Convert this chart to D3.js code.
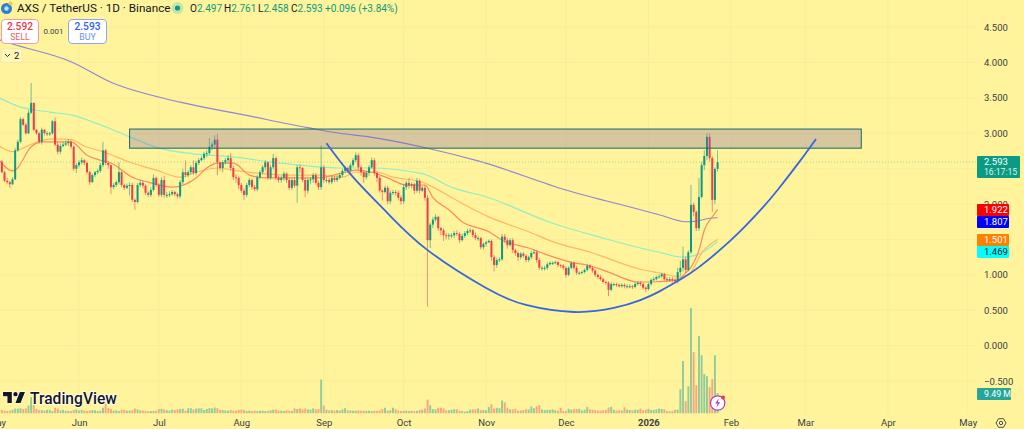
<!DOCTYPE html>
<html><head><meta charset="utf-8">
<script src="https://cdn.jsdelivr.net/npm/d3@7"></script>
<style>html,body{margin:0;padding:0;background:#fff39b;overflow:hidden}svg{display:block}text{font-family:Roboto,"Open Sans",sans-serif}</style>
</head><body><svg id="c" width="1024" height="429"></svg>
<script>
// candle index 0 = 2 May 2025, one candle per day
const closes=[2.60,
2.45,2.33,2.31,2.28,2.35,2.76,2.88,3.20,3.12,3.00,
3.29,3.43,3.05,3.00,2.88,3.05,3.00,3.00,3.00,3.17,
2.84,2.74,2.82,2.84,2.86,2.88,2.81,2.50,2.55,2.59,
2.62,2.58,2.45,2.31,2.41,2.45,2.47,2.55,2.76,2.58,
2.55,2.24,2.27,2.31,2.45,2.27,2.23,2.26,2.27,2.06,
2.03,2.27,2.30,2.26,2.16,2.13,2.20,2.37,2.27,2.13,
2.34,2.13,2.13,2.14,2.17,2.14,2.11,2.31,2.45,2.41,
2.45,2.52,2.44,2.58,2.62,2.65,2.71,2.72,2.81,2.84,
2.91,2.59,2.51,2.59,2.62,2.65,2.51,2.38,2.37,2.27,
2.19,2.13,2.27,2.34,2.24,2.21,2.38,2.45,2.52,2.59,
2.37,2.52,2.65,2.37,2.34,2.37,2.43,2.34,2.23,2.34,
2.26,2.52,2.51,2.34,2.19,2.34,2.35,2.41,2.30,2.24,
2.52,2.34,2.34,2.31,2.37,2.34,2.37,2.41,2.47,2.51,
2.47,2.55,2.62,2.69,2.52,2.45,2.38,2.44,2.52,2.62,
2.44,2.37,2.19,2.17,2.23,2.04,2.16,2.17,2.16,2.09,
2.04,2.24,2.30,2.26,2.28,2.19,2.33,2.19,2.23,2.09,
1.49,1.71,1.78,1.82,1.66,1.63,1.56,1.55,1.56,1.56,
1.59,1.58,1.49,1.55,1.59,1.62,1.63,1.56,1.52,1.52,
1.39,1.44,1.46,1.48,1.25,1.14,1.21,1.22,1.54,1.49,
1.42,1.49,1.35,1.31,1.25,1.30,1.27,1.21,1.25,1.31,
1.32,1.21,1.10,1.10,1.10,1.15,1.17,1.17,1.18,1.14,
1.13,1.10,1.00,1.10,1.17,1.10,1.03,1.03,1.04,1.07,
1.13,1.10,1.06,1.00,.97,.94,.90,.89,.79,.87,
.87,.86,.84,.86,.84,.84,.84,.83,.87,.89,
.87,.82,.80,.87,.93,.94,.97,.98,1.01,.94,
.93,.94,.93,.91,1.04,1.10,1.22,1.07,1.32,1.99,
1.89,1.66,2.10,2.55,2.68,2.95,2.65,2.06,2.497,2.593];
const highs=[2.63,
2.62,2.47,2.37,2.33,2.38,2.79,2.91,3.23,3.22,3.15,
3.33,3.71,3.43,3.06,3.02,3.08,3.06,3.03,3.02,3.19,
3.22,2.88,2.86,2.88,2.90,2.92,2.90,2.83,2.58,2.62,
2.66,2.64,2.60,2.47,2.43,2.47,2.50,2.58,2.88,2.78,
2.60,2.56,2.30,2.33,2.59,2.47,2.29,2.29,2.31,2.30,
2.08,2.30,2.34,2.33,2.28,2.18,2.24,2.42,2.39,2.30,
2.38,2.40,2.17,2.18,2.20,2.19,2.16,2.34,2.50,2.62,
2.48,2.55,2.62,2.61,2.65,2.68,2.74,2.76,2.93,2.88,
2.97,2.99,2.60,2.62,2.65,2.69,2.72,2.54,2.42,2.39,
2.30,2.22,2.30,2.37,2.36,2.27,2.41,2.48,2.55,2.62,
2.60,2.55,2.71,2.67,2.40,2.40,2.46,2.45,2.37,2.37,
2.38,2.55,2.56,2.52,2.37,2.37,2.38,2.44,2.44,2.33,
2.83,2.55,2.38,2.37,2.40,2.40,2.41,2.44,2.50,2.54,
2.53,2.58,2.65,2.73,2.72,2.55,2.47,2.47,2.55,2.66,
2.65,2.47,2.40,2.21,2.26,2.26,2.19,2.20,2.20,2.19,
2.12,2.28,2.33,2.37,2.31,2.30,2.37,2.35,2.26,2.27,
2.13,1.74,1.82,1.86,1.83,1.68,1.66,1.59,1.59,1.59,
1.62,1.63,1.60,1.58,1.62,1.65,1.66,1.65,1.60,1.55,
1.54,1.46,1.48,1.50,1.50,1.28,1.24,1.25,1.58,1.58,
1.52,1.52,1.52,1.37,1.33,1.32,1.32,1.29,1.27,1.34,
1.36,1.35,1.24,1.13,1.13,1.18,1.19,1.19,1.20,1.19,
1.15,1.15,1.12,1.12,1.19,1.19,1.13,1.05,1.06,1.09,
1.15,1.15,1.12,1.08,1.02,1.00,.96,.92,.91,.90,
.89,.89,.88,.88,.88,.87,.87,.86,.90,.91,
.91,.89,.84,.89,.95,.97,.99,1.01,1.03,1.03,
.97,.97,.97,.95,1.10,1.20,1.40,1.26,1.35,2.27,
2.02,1.91,2.37,2.60,2.76,3.00,3.00,2.68,2.52,2.761];
const lows=[2.55,
2.44,2.31,2.28,2.23,2.27,2.34,2.74,2.86,3.10,2.98,
2.99,3.27,3.03,2.98,2.85,2.84,2.97,2.96,2.96,2.98,
2.82,2.70,2.71,2.80,2.82,2.82,2.78,2.47,2.44,2.52,
2.56,2.55,2.42,2.27,2.30,2.38,2.42,2.44,2.52,2.55,
2.50,2.14,2.21,2.24,2.28,2.24,2.20,2.21,2.12,2.03,
1.92,2.01,2.24,2.22,2.13,2.10,2.10,2.18,2.24,2.10,
2.10,2.09,2.09,2.10,2.12,2.11,2.08,2.08,2.28,2.38,
2.38,2.42,2.41,2.41,2.55,2.60,2.62,2.66,2.69,2.76,
2.78,2.41,2.47,2.45,2.56,2.58,2.47,2.34,2.30,2.21,
2.16,2.06,2.10,2.24,2.20,2.18,2.18,2.35,2.42,2.48,
2.34,2.34,2.49,2.34,2.30,2.30,2.33,2.30,2.20,2.20,
2.23,2.02,2.44,2.31,2.10,2.15,2.28,2.30,2.27,2.20,
2.20,2.30,2.30,2.28,2.28,2.31,2.31,2.35,2.38,2.44,
2.44,2.44,2.52,2.59,2.48,2.40,2.30,2.35,2.40,2.50,
2.40,2.31,2.16,2.05,2.15,2.00,2.00,2.13,2.12,2.05,
1.99,2.00,2.20,2.22,2.22,2.14,2.16,2.15,2.17,2.05,
.55,1.38,1.66,1.75,1.62,1.56,1.48,1.50,1.50,1.52,
1.52,1.55,1.45,1.47,1.52,1.56,1.59,1.53,1.49,1.48,
1.36,1.36,1.40,1.45,1.20,1.05,1.10,1.18,1.20,1.45,
1.37,1.40,1.31,1.27,1.20,1.22,1.24,1.18,1.18,1.22,
1.29,1.17,1.07,1.06,1.06,1.07,1.13,1.14,1.15,1.11,
1.10,1.07,.96,.98,1.08,1.07,1.00,1.00,1.01,1.02,
1.05,1.08,1.03,.97,.94,.92,.88,.86,.70,.77,
.84,.83,.82,.82,.81,.81,.81,.80,.81,.85,
.84,.79,.76,.78,.85,.91,.92,.95,.96,.92,
.90,.90,.89,.88,.88,.98,1.05,1.03,1.05,1.30,
1.83,1.62,1.62,2.08,2.48,2.62,2.60,1.89,2.00,2.458];
// volume in millions
const volumes=[1.2,
1.5,1.2,1.0,1.2,1.6,2.2,2.2,2.4,2.0,2.2,
3.6,7.6,3.8,2.0,1.4,1.5,1.2,1.6,1.6,1.0,
2.6,2.2,1.3,1.6,1.1,1.1,1.0,1.5,1.8,1.2,
1.6,1.2,1.0,1.3,1.5,1.4,1.0,1.2,2.6,4.5,
2.4,2.0,1.2,1.4,1.0,1.7,1.6,1.2,1.3,1.4,
2.2,1.8,1.3,1.2,1.1,.9,1.0,1.1,1.2,2.0,
2.1,1.8,1.4,1.2,1.7,1.5,1.8,2.0,2.1,1.2,
2.3,2.4,1.8,2.2,2.3,2.3,1.5,2.0,2.4,2.3,
2.7,2.4,1.6,1.5,1.3,1.2,1.5,1.2,1.2,1.6,
1.7,1.6,1.0,1.2,1.0,1.3,1.0,1.2,1.2,1.0,
1.1,1.4,1.7,1.8,1.3,1.2,1.0,1.4,1.2,1.1,
2.3,2.0,2.3,1.8,2.2,1.8,1.7,2.3,1.8,2.0,
16,3.6,1.7,1.3,1.5,1.2,1.5,1.2,1.8,2.4,
1.4,1.3,1.2,1.2,1.3,1.2,1.2,1.1,1.2,1.0,
1.2,1.1,1.3,1.9,2.6,1.2,1.4,2.6,1.8,1.2,
1.0,1.1,1.2,1.1,1.2,1.0,1.1,1.6,1.7,2.2,
6.5,3.8,1.9,1.8,2.6,2.6,2.2,1.3,1.4,1.7,
1.9,1.9,1.2,1.0,.7,1.0,1.7,1.8,1.8,2.3,
1.4,1.5,1.4,3.0,4.2,2.2,2.6,2.4,6.0,5.2,
2.6,1.8,1.8,2.1,1.2,1.2,1.5,1.8,1.8,3.2,
2.4,3.3,3.8,1.8,1.5,1.6,1.6,1.8,1.4,1.2,
2.6,1.1,1.0,2.1,1.7,1.9,2.0,2.1,1.3,1.7,
3.0,1.9,1.7,1.5,1.3,1.2,1.4,1.6,2.7,3.0,
1.7,1.2,1.4,1.3,2.8,1.7,1.5,1.3,1.7,1.6,
2.2,1.4,1.7,2.1,1.5,1.6,1.8,2.2,2.0,1.9,
1.0,.9,1.0,1.6,1.7,11.4,24.8,5.7,12.8,50,
29,13.3,36.7,27.6,18.6,17.6,12.4,16.2,27.6,9.49];

const purpleDays=[0,5,27,42,68,92,116,128,139,161,181,213,241,248,258,262,267,270];
const purpleVals=[4.32,4.26,4.01,3.72,3.44,3.26,3.08,3.00,2.95,2.79,2.60,2.20,1.92,1.85,1.75,1.76,1.80,1.807];
const tealDays=[0,8,19,27,38,49,60,73,87,101,113,128,139,159,170,184,208,227,241,248,257,262,270];
const tealVals=[3.50,3.37,3.30,3.26,3.12,2.95,2.79,2.71,2.67,2.60,2.55,2.51,2.51,2.43,2.24,2.09,1.73,1.52,1.38,1.32,1.25,1.28,1.469];
const orangeDays=[0,5,7,13,20,27,32,39,50,59,68,74,82,88,96,108,120,129,134,142,148,159,163,173,184,199,208,223,241,248,256,260,264,270];
const orangeVals=[2.82,2.74,2.76,2.86,2.92,2.91,2.82,2.74,2.58,2.48,2.38,2.45,2.51,2.48,2.44,2.41,2.41,2.38,2.45,2.45,2.38,2.31,2.24,2.03,1.82,1.61,1.47,1.31,1.08,1.03,.97,1.04,1.31,1.501];
const fastDays=[0,5,6,12,16,20,27,33,38,42,50,56,65,74,78,82,88,94,100,110,120,129,134,140,146,153,160,163,169,174,184,189,199,204,216,221,229,240,245,255,258,260,263,265,268,270];
const fastVals=[2.62,2.47,2.48,2.81,2.88,2.88,2.88,2.69,2.62,2.58,2.38,2.31,2.24,2.37,2.51,2.58,2.58,2.41,2.37,2.37,2.37,2.44,2.48,2.45,2.37,2.27,2.27,2.09,1.92,1.75,1.61,1.49,1.38,1.31,1.17,1.14,1.04,.90,.90,.93,1.03,1.11,1.35,1.63,1.82,1.922];
const curveDays=[123,133,146,161,183,198,216,231,241,248,256,263,275,286,293,301,307];
const curveVals=[2.86,2.38,1.87,1.35,.815,.575,.476,.533,.645,.764,.934,1.11,1.49,1.91,2.22,2.61,2.92];
const priceTicks=[4.5,4,3.5,3,2.5,2,1.5,1,.5,0,-.5];
const priceLabels=[4.5,4,3.5,3,2,1,.5,0,-.5];
const monthTicks=[[2025,4,"May"],[2025,5,"Jun"],[2025,6,"Jul"],[2025,7,"Aug"],[2025,8,"Sep"],[2025,9,"Oct"],[2025,10,"Nov"],[2025,11,"Dec"],[2026,0,"2026"],[2026,1,"Feb"],[2026,2,"Mar"],[2026,3,"Apr"],[2026,4,"May"]];
const zoneTop=3.06, zoneBottom=2.79, zoneStart=49, zoneEnd=324;
const lastPrice=2.593;

const svg=d3.select("#c");
const start=Date.UTC(2025,4,2), date=i=>new Date(start+i*864e5);
const x=d3.scaleUtc().domain([date(0),new Date(Date.UTC(2026,4,1))]).range([-0.8,967.7]);
const y=d3.scaleLinear().domain([0,4.5]).range([345.7,27.1]);
const vy=d3.scaleLinear().domain([0,50]).range([413.2,308]);
const xd=i=>x(date(i));
const W=977,AX="#2a2e39",UP="#0a9b82",DN="#f23c4c";
svg.append("rect").attr("width",1024).attr("height",429).attr("fill","#fff39b");
const grid=svg.append("g").attr("stroke","#f9ec9e").attr("stroke-width",1);
grid.selectAll("line.h").data(priceTicks).join("line").attr("x1",0).attr("x2",W).attr("y1",d=>y(d)).attr("y2",d=>y(d));
const mDates=monthTicks.map(d=>new Date(Date.UTC(d[0],d[1],1)));
grid.selectAll("line.v").data(mDates).join("line").attr("y1",0).attr("y2",413).attr("x1",d=>x(d)).attr("x2",d=>x(d));

// volume
const isUp=i=>i===0?false:closes[i]>=closes[i-1];
svg.append("g").selectAll("rect").data(volumes).join("rect")
 .attr("x",(d,i)=>xd(i)-.95).attr("width",1.9).attr("y",d=>vy(d)).attr("height",d=>vy(0)-vy(d))
 .attr("fill",(d,i)=>isUp(i)?"#8fcb9b":"#f7a583");

// moving averages
const path=(ds,vs,col,w,cv)=>svg.append("path").attr("d",d3.line().x(d=>xd(d)).y((d,i)=>y(vs[i])).curve(cv||d3.curveMonotoneX)(ds)).attr("fill","none").attr("stroke",col).attr("stroke-width",w);
path(purpleDays,purpleVals,"#8f86d6",1.1);
path(tealDays,tealVals,"#8df0c8",1.2);
path(orangeDays,orangeVals,"#ffb866",1.2);
path(fastDays,fastVals,"#ff8a5c",1.2);

// dotted last price
svg.append("line").attr("x1",0).attr("x2",W).attr("y1",y(lastPrice)).attr("y2",y(lastPrice)).attr("stroke","#a9d79a").attr("stroke-width",1).attr("stroke-dasharray","1 2");

// candles
const cg=svg.append("g");
cg.selectAll("line").data(closes).join("line")
 .attr("x1",(d,i)=>xd(i)).attr("x2",(d,i)=>xd(i)).attr("y1",(d,i)=>y(highs[i])).attr("y2",(d,i)=>y(lows[i]))
 .attr("stroke",(d,i)=>isUp(i)?UP:DN).attr("stroke-width",.8).attr("opacity",.7);
cg.selectAll("rect").data(closes).join("rect")
 .attr("x",(d,i)=>xd(i)-1).attr("width",2)
 .attr("y",(d,i)=>y(Math.max(d,i?closes[i-1]:d)))
 .attr("height",(d,i)=>Math.max(1,Math.abs(y(d)-y(i?closes[i-1]:d))))
 .attr("fill",(d,i)=>isUp(i)?UP:DN);

// zone
svg.append("rect").attr("x",xd(zoneStart)).attr("y",y(zoneTop)).attr("width",xd(zoneEnd)-xd(zoneStart)).attr("height",y(zoneBottom)-y(zoneTop))
 .attr("fill","rgba(122,100,167,.3)").attr("stroke","#0f6b6b").attr("stroke-width",1);

// drawn curve
path(curveDays,curveVals,"#3567e0",1.8,d3.curveNatural);

// price axis
const ay=d3.axisRight(y).tickValues(priceLabels).tickSize(0).tickPadding(0).tickFormat(d=>(d<0?"\u2212":"")+d3.format(".3f")(Math.abs(d)));
const gy=svg.append("g").attr("transform","translate(984,0)").call(ay);
gy.select(".domain").remove();
gy.selectAll("text").attr("fill","#3b3f4a").attr("font-size",9.5);

// month axis
const ax=d3.axisBottom(x).tickValues(mDates).tickSize(0).tickPadding(0).tickFormat((d,i)=>monthTicks[i][2]);
const gx=svg.append("g").attr("transform","translate(0,419)").call(ax);
gx.select(".domain").remove();
gx.selectAll("text").attr("fill","#3b3f4a").attr("font-size",9.5).attr("font-weight",(d,i)=>monthTicks[i][2]==="2026"?700:400);

// price tags
const tag=(yy,h,w,fill,tc,txt,sub,fs)=>{
 svg.append("rect").attr("x",977).attr("y",yy).attr("width",w).attr("height",h).attr("fill",fill).attr("rx",1);
 svg.append("text").attr("x",984).attr("y",yy+8.9).attr("fill",tc).attr("font-size",fs||9.5).text(txt);
 if(sub)svg.append("text").attr("x",984).attr("y",yy+19).attr("fill",tc).attr("font-size",8.6).attr("opacity",.85).text(sub);
};
tag(156,22,43,"#0a9b82","#fff","2.593","16:17:15");
tag(204,12,32,"#ff0000","#fff","1.922");
tag(216,12,32,"#0000ff","#fff","1.807");
tag(234,12,32,"#ff7f00","#fff","1.501");
tag(246,12,32,"#00ffff","#131722","1.469");
tag(388,12,34,"#26a69a","#fff","9.49 M",null,8.8);

// header
const logo=svg.append("g");
logo.append("circle").attr("cx",6.5).attr("cy",8.5).attr("r",5.5).attr("fill","#2f7fd0");
logo.append("circle").attr("cx",6.5).attr("cy",8.5).attr("r",2.2).attr("fill","#bfe3ff");
svg.append("circle").attr("cx",10.5).attr("cy",3.6).attr("r",2).attr("fill","#f7c948");
svg.append("text").attr("x",17).attr("y",12.4).attr("font-size",11.7).attr("fill","#131722").text("AXS / TetherUS \u00b7 1D \u00b7 Binance");
svg.append("circle").attr("cx",177.5).attr("cy",8).attr("r",6).attr("fill","#c6e6a8");
svg.append("circle").attr("cx",177.5).attr("cy",8).attr("r",2.6).attr("fill","#0a9b82");
[[190,"O","2.497"],[224,"H","2.761"],[258,"L","2.458"],[291,"C","2.593"]].forEach(d=>{
 const t=svg.append("text").attr("x",d[0]).attr("y",11.8).attr("font-size",10);
 t.append("tspan").attr("fill","#131722").text(d[1]);
 t.append("tspan").attr("fill","#0a9b82").text(d[2]);
});
svg.append("text").attr("x",325).attr("y",11.8).attr("font-size",10).attr("fill","#0a9b82").text("+0.096 (+3.84%)");

// order box
const box=(bx,w,bc,c1,c2,a,b)=>{
 svg.append("rect").attr("x",bx+.5).attr("y",19.5).attr("width",w).attr("height",24).attr("rx",3.5).attr("fill","#fff").attr("stroke",bc);
 svg.append("text").attr("x",bx+.5+w/2).attr("y",30).attr("text-anchor","middle").attr("font-size",10.2).attr("font-weight",500).attr("fill",c1).text(a);
 svg.append("text").attr("x",bx+.5+w/2).attr("y",40).attr("text-anchor","middle").attr("font-size",8.8).attr("fill",c2).text(b);
};
box(1,37,"#f59a9f","#f23645","#f2606c","2.592","SELL");
box(68,38,"#8aa8f0","#2962ff","#6d8ff5","2.593","BUY");
svg.append("text").attr("x",53.5).attr("y",33.5).attr("text-anchor","middle").attr("font-size",8).attr("fill","#3b3f4a").text("0.001");
svg.append("rect").attr("x",1).attr("y",48.5).attr("width",21).attr("height",14).attr("rx",2).attr("fill","#fff6b8").attr("stroke","#f3e9a8");
svg.append("path").attr("d","M5 54l2.5 2.5L10 54").attr("fill","none").attr("stroke","#131722").attr("stroke-width",.9);
svg.append("text").attr("x",14).attr("y",59).attr("font-size",9.5).attr("fill","#131722").text("2");

// TradingView mark
const tv=svg.append("g").attr("transform","translate(1.6,387.6) scale(.73)");
tv.append("path").attr("d","M14 6H2v6h6v9h6V6zm12 15h-7l6-15h7l-6 15zm-7-9a3 3 0 100-6 3 3 0 000 6z").attr("fill","#131722").attr("stroke","#fff").attr("stroke-width",1.6).attr("paint-order","stroke");
svg.append("text").attr("x",30).attr("y",403.5).attr("font-size",15.6).attr("font-weight",500).attr("fill","#131722").attr("stroke","#fff").attr("stroke-width",1.6).attr("paint-order","stroke").text("TradingView");

// lightning badge
svg.append("circle").attr("cx",717.7).attr("cy",403).attr("r",7.2).attr("fill","#fff").attr("stroke","#a93cc8").attr("stroke-width",1.2);
svg.append("path").attr("d","M718.8 398.6l-3.6 5h2.4l-1.2 3.9 3.8-5.2h-2.4z").attr("fill","#a93cc8");
svg.append("circle").attr("cx",723).attr("cy",397.6).attr("r",2).attr("fill","#f23645");

// settings
svg.append("path").attr("d","M996 423l2.5-4.3h5l2.5 4.3-2.5 4.3h-5z").attr("fill","none").attr("stroke","#3b3f4a").attr("stroke-width",.9);
svg.append("circle").attr("cx",1001).attr("cy",423).attr("r",1.7).attr("fill","none").attr("stroke","#3b3f4a").attr("stroke-width",.9);
</script></body></html>
